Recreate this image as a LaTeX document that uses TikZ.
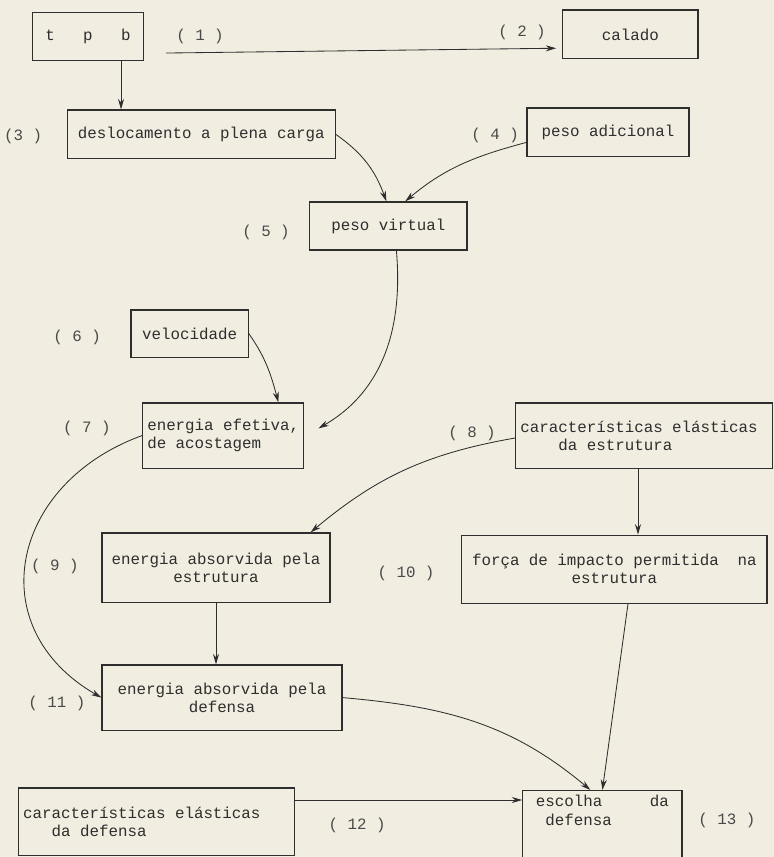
\documentclass[tikz,border=0pt]{standalone}
\usepackage{fontspec}
\setmainfont{Liberation Mono}
\usetikzlibrary{arrows.meta}
\definecolor{paper}{HTML}{F1EDE1}
\definecolor{ink}{HTML}{2E2E2E}
\definecolor{numink}{HTML}{4A4A4A}

\begin{document}
\begin{tikzpicture}[
  box/.style={draw=ink, line width=0.9pt, text=ink, minimum height=1.22cm},
  num/.style={text=numink},
  arr/.style={-{Stealth[length=2.6mm,width=1.5mm]}, draw=ink, line width=0.6pt},
  font=\fontsize{11.25}{13}\selectfont
]
\clip (0,0) rectangle (19.35,-21.425);
\fill[paper] (0,0) rectangle (19.35,-21.425);

% boxes
\node[box, minimum width=2.78cm, minimum height=1.2cm] (tpb) at (2.2,-0.91) {t~~~p~~~b};
\node[box, minimum width=3.38cm] (cal) at (15.76,-0.86) {calado};
\node[box, minimum width=6.7cm] (desl) at (5.03,-3.36) {deslocamento a plena carga};
\node[box, minimum width=4.05cm] (pad) at (15.2,-3.31) {peso adicional};
\node[box, minimum width=3.93cm, minimum height=1.2cm] (pv) at (9.71,-5.65) {peso virtual};
\node[box, minimum width=2.93cm, minimum height=1.18cm] (vel) at (4.74,-8.34) {velocidade};
\node[box, minimum width=4cm, minimum height=1.63cm, align=left] (ef) at (5.58,-10.89) {energia efetiva,\\de acostagem};
\node[box, text width=6.18cm, minimum height=1.63cm, align=left] (ce) at (16.1,-10.89) {\spaceskip=0pt características elásticas\\~~~~da estrutura};
\node[box, minimum width=5.7cm, minimum height=1.73cm, align=center] (ae) at (5.4,-14.19) {energia absorvida pela\\estrutura};
\node[box, minimum width=7.63cm, minimum height=1.7cm, align=center] (fi) at (15.36,-14.23) {força de impacto permitida~~na\\estrutura};
\node[box, minimum width=6cm, minimum height=1.63cm, align=center] (ad) at (5.55,-17.44) {energia absorvida pela\\defensa};
\node[box, text width=6.66cm, minimum height=1.68cm, align=left] (cd) at (3.91,-20.54) {\spaceskip=0pt características elásticas\\~~~da defensa};
\node[box, minimum width=3.98cm, anchor=north, align=left] (esc) at (15.06,-19.75) {escolha~~~~~da\\~defensa\\\rule{0pt}{1cm}};

% numbers
\node[num] (n1) at (5.0,-0.92) {( 1 )};
\node[num] (n2) at (13.05,-0.8) {( 2 )};
\node[num] (n3) at (0.58,-3.42) {(3 )};
\node[num] (n4) at (12.38,-3.38) {( 4 )};
\node[num] (n5) at (6.65,-5.8) {( 5 )};
\node[num] (n6) at (1.93,-8.43) {( 6 )};
\node[num] (n7) at (2.17,-10.7) {( 7 )};
\node[num] (n8) at (11.8,-10.83) {( 8 )};
\node[num] (n9) at (1.37,-14.17) {( 9 )};
\node[num] (n10) at (10.15,-14.33) {( 10 )};
\node[num] (n11) at (1.42,-17.58) {( 11 )};
\node[num] (n12) at (8.93,-20.63) {( 12 )};
\node[num] (n13) at (18.17,-20.5) {( 13 )};

% arrows
\draw[arr] ([xshift=0.55cm,yshift=0.2cm]tpb.south east) -- ([xshift=-0.15cm,yshift=0.28cm]cal.south west);
\draw[arr] ([xshift=-0.58cm]tpb.south east) -- ([xshift=-0.58cm]tpb.south east |- desl.north);
\draw[arr] (desl.east) to[out=-35,in=110] ([xshift=-0.05cm]pv.north);
\draw[arr] ([yshift=-0.25cm]pad.west) to[out=195,in=40] ([xshift=0.42cm]pv.north);
\draw[arr] ([xshift=0.2cm]pv.south) to[out=-85,in=30] ([xshift=0.35cm,yshift=0.18cm]ef.east);
\draw[arr] (vel.east) to[out=-55,in=105] ([xshift=1.38cm]ef.north);
\draw[arr] (ef.west) to[out=200,in=150,looseness=1.35] (ad.west);
\draw[arr] ([yshift=-0.06cm]ce.west) to[out=190,in=40] ([xshift=-0.5cm]ae.north east);
\draw[arr] (ae.south) -- (ae.south |- ad.north);
\draw[arr] ([xshift=-0.15cm]ce.south) -- ([xshift=-0.15cm]ce.south |- fi.north);
\draw[arr] ([xshift=0.34cm]fi.south) -- (esc.north);
\draw[arr] (ad.east) to[out=-5,in=140] ([xshift=-0.3cm]esc.north);
\draw[arr] ([yshift=0.54cm]cd.east) -- ([yshift=0.54cm]cd.east -| esc.west);
\end{tikzpicture}
\end{document}
